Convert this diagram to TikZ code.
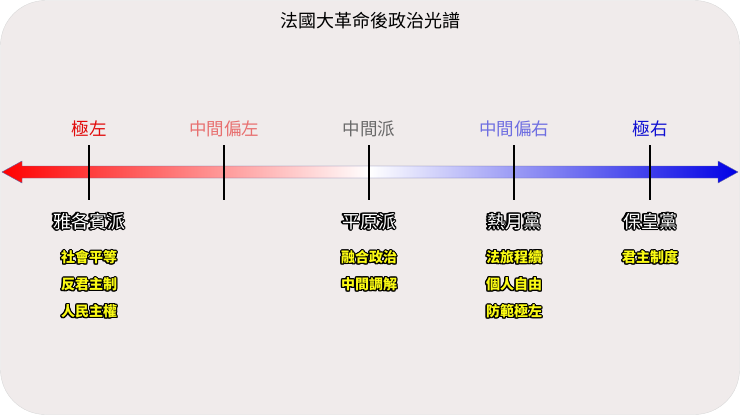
\documentclass[tikz,border=0pt]{standalone}
\usepackage{fontspec}
\setmainfont{Noto Sans CJK TC}
\usepackage[copies]{contour}
\contourlength{1.1pt}
\contournumber{16}
\definecolor{bg}{RGB}{240,235,235}
\definecolor{lred}{RGB}{225,10,10}
\definecolor{lpink}{RGB}{232,112,112}
\definecolor{lgray}{RGB}{105,105,105}
\definecolor{lslate}{RGB}{110,110,225}
\definecolor{lblue}{RGB}{15,15,210}
\definecolor{yel}{RGB}{250,250,20}
\tikzset{
  lab/.style={font=\fontsize{17.5}{19}\selectfont,anchor=center},
  party/.style={font=\fontsize{18}{20}\selectfont,text=white},
  attr/.style={font=\fontsize{14}{16}\selectfont\bfseries,text=yel},
  tick/.style={line width=1.6pt,black},
}
\newcommand{\wout}[1]{\contour{black}{#1}}
\begin{document}
\begin{tikzpicture}[x=1pt,y=-1pt]
\useasboundingbox (0,0) rectangle (740,415);
\path[draw=black!15,fill=bg,rounded corners=45pt] (0.5,0.5) rectangle (739.5,414.5);
\node[font=\fontsize{18}{20}\selectfont] (title) at (370,21) {法國大革命後政治光譜};
% arrow
\shade[left color=red,right color=white,draw=none] (2,172) -- (22,161) -- (22,166) -- (370,166) -- (370,178) -- (22,178) -- (22,183) -- cycle;
\shade[left color=white,right color=blue!90!black,draw=none] (370,166) -- (718,166) -- (718,161) -- (738,172) -- (718,183) -- (718,178) -- (370,178) -- cycle;
\draw[blue!40!black!60,line width=0.4pt] (2,172) -- (22,161) -- (22,166) -- (718,166) -- (718,161) -- (738,172) -- (718,183) -- (718,178) -- (22,178) -- (22,183) -- cycle;
% ticks
\foreach \x/\n in {89/a,224/b,369/c,514/d,650/e}{
  \draw[tick] (\x,145) coordinate (t\n top) -- (\x,200) coordinate (t\n bot);
}
\node[lab,text=lred] (l1) at (89,129) {極左};
\node[lab,text=lpink] (l2) at (224,129) {中間偏左};
\node[lab,text=lgray] (l3) at (369,129) {中間派};
\node[lab,text=lslate] (l4) at (514,129) {中間偏右};
\node[lab,text=lblue] (l5) at (650,129) {極右};
% parties
\node[party] (p1) at (89,222) {\wout{雅各賓派}};
\node[party] (p3) at (369,222) {\wout{平原派}};
\node[party] (p4) at (514,222) {\wout{熱月黨}};
\node[party] (p5) at (650,222) {\wout{保皇黨}};
% attributes
\node[attr] (a11) at (89,258) {\wout{社會平等}};
\node[attr] (a12) at (89,285) {\wout{反君主制}};
\node[attr] (a13) at (89,312) {\wout{人民主權}};
\node[attr] (a31) at (369,258) {\wout{融合政治}};
\node[attr] (a32) at (369,285) {\wout{中間調解}};
\node[attr] (a41) at (514,258) {\wout{法旅程續}};
\node[attr] (a42) at (514,285) {\wout{個人自由}};
\node[attr] (a43) at (514,312) {\wout{防範極左}};
\node[attr] (a51) at (650,258) {\wout{君主制度}};
\end{tikzpicture}
\end{document}
